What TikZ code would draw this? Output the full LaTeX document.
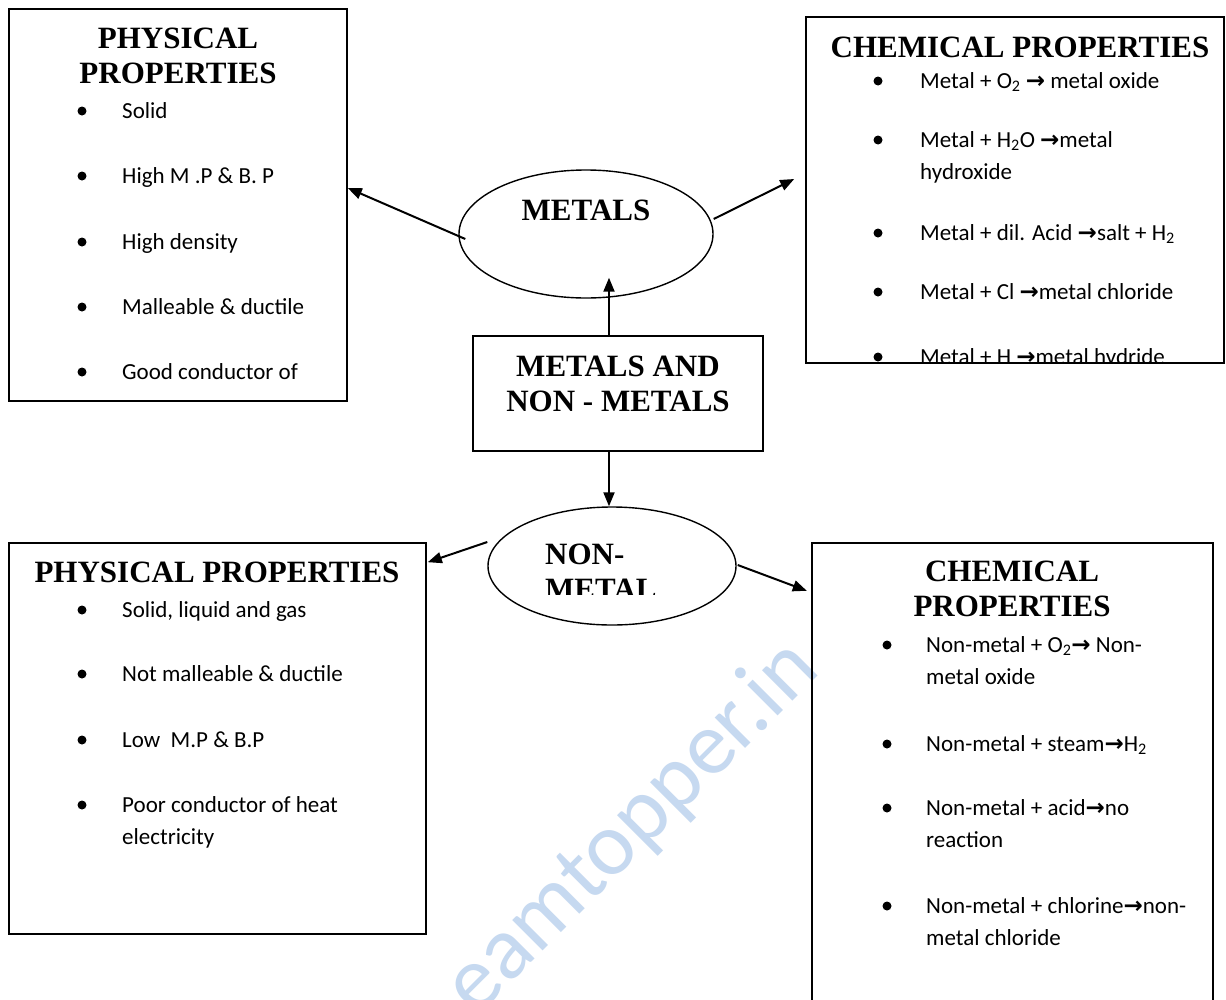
\documentclass[tikz,border=0pt]{standalone}
\usepackage{fontspec}
\setmainfont{Carlito}
\newfontfamily\tnr{Liberation Serif}
\newfontfamily\dvs{DejaVu Sans}
\usetikzlibrary{arrows.meta,calc,shapes.geometric}
\definecolor{wmblue}{RGB}{198,217,240}
\newcommand{\ra}{{\dvs\bfseries →}}
\newcommand{\sbs}[1]{\textsubscript{#1}}
\begin{document}
\begin{tikzpicture}[x=1pt,y=-1pt,
  box/.style={draw, line width=1.6pt, rectangle, inner sep=0pt},
  oval/.style={draw, line width=1.4pt, ellipse, inner sep=0pt},
  title/.style={font=\tnr\bfseries\fontsize{31}{35}\selectfont, align=center, inner sep=0pt, anchor=base},
  item/.style={font=\fontsize{23}{32.5}\selectfont, align=left, anchor=base west, inner sep=0pt},
  con/.style={line width=2pt, -{Triangle[length=14pt,width=11pt]}},
  dot/.style={circle, fill, inner sep=0pt, minimum size=9pt}]
\useasboundingbox[fill=white] (0,0) rectangle (1226,999);

% watermark
\node[rotate=45, anchor=base east, text=wmblue, inner sep=0pt,
      font=\fontsize{90}{90}\selectfont] (wm) at (822,672) {eamtopper.in};

% boxes
\node[box, minimum width=338pt, minimum height=392pt] (tlbox) at (178,205) {};
\node[box, minimum width=418pt, minimum height=346pt] (trbox) at (1015,190) {};
\node[box, minimum width=290pt, minimum height=115pt] (center) at (618,393.5) {};
\node[box, minimum width=417pt, minimum height=391pt] (blbox) at (217.5,738.5) {};
\node[inner sep=0pt, minimum width=401pt, minimum height=500pt] (brbox) at (1012.5,793) {};
\draw[line width=1.6pt] (brbox.south west) -- (brbox.north west) -- (brbox.north east) -- (brbox.south east);
\node[oval, minimum width=254pt, minimum height=128pt] (metals) at (586,234) {};
\node[oval, minimum width=248pt, minimum height=118pt] (nonmetal) at (612,566) {};

% titles (multi-line nodes: base = last line)
\node[title] (tltitle) at (178,83) {PHYSICAL\\PROPERTIES};
\node[title] (trtitle) at (1020,57) {CHEMICAL PROPERTIES};
\node[title] (ctitle) at (618,411) {METALS AND\\NON - METALS};
\node[title] (bltitle) at (217,582) {PHYSICAL PROPERTIES};
\node[title] (brtitle) at (1012,616) {CHEMICAL\\PROPERTIES};
\node[title] (mtitle) at (586,220) {METALS};
\begin{scope}
\clip (0,0) rectangle (1226,594);
\node[title, align=left, anchor=base west] (nmtitle) at (545,599) {NON-\\METAL};
\end{scope}

% connectors
\draw[con] ($(center.north)+(-9,0)$) -- ($(metals.south)+(23,-21)$);
\draw[con] ($(metals.west)+(7,5)$) -- ($(tlbox.east)+(0,-17)$);
\draw[con] ($(metals.east)+(0,-15)$) -- ($(trbox.west)+(-11,-11)$);
\draw[con] ($(center.south)+(-9,0)$) -- ($(nonmetal.north)+(-3,0)$);
\draw[con] ($(nonmetal.west)+(0,-24)$) -- ($(blbox.north east)+(1,20)$);
\draw[con] ($(nonmetal.east)+(1,-1)$) -- ($(brbox.north west)+(-5,48)$);

% top-left items
\foreach \yy in {111,176,242,307,372} \node[dot] at (82,\yy) {};
\node[item] (tl1) at (122,118) {Solid};
\node[item] (tl2) at (122,183) {High M .P \& B. P};
\node[item] (tl3) at (122,249) {High density};
\node[item] (tl4) at (122,314) {Malleable \& ductile};
\node[item] (tl5) at (122,379) {Good conductor of};

% top-right items
\begin{scope}
\clip (806,17) rectangle (1224,361);
\foreach \yy in {81,140,233,292,357} \node[dot] at (878,\yy) {};
\node[item] (tr1) at (920,88) {Metal + O\sbs{2} \ra{} metal oxide};
\node[item] (tr2) at (920,179.5) {Metal + H\sbs{2}O \ra metal\\hydroxide};
\node[item] (tr3) at (920,240) {Metal + dil. Acid \ra salt + H\sbs{2}};
\node[item] (tr4) at (920,299) {Metal + Cl \ra metal chloride};
\node[item] (tr5) at (920,364) {Metal + H \ra metal hydride};
\end{scope}

% bottom-left items
\foreach \yy in {610,674,740,805} \node[dot] at (82,\yy) {};
\node[item] (bl1) at (122,617) {Solid, liquid and gas};
\node[item] (bl2) at (122,681) {Not malleable \& ductile};
\node[item] (bl3) at (122,747) {Low\ \ M.P \& B.P};
\node[item] (bl4) at (122,844.5) {Poor conductor of heat\\electricity};

% bottom-right items
\foreach \yy in {645,744,808,906} \node[dot] at (887,\yy) {};
\node[item] (br1) at (926,684.5) {Non-metal + O\sbs{2}\ra{} Non-\\metal oxide};
\node[item] (br2) at (926,751) {Non-metal + steam\ra H\sbs{2}};
\node[item] (br3) at (926,847.5) {Non-metal + acid\ra no\\reaction};
\node[item] (br4) at (926,945.5) {Non-metal + chlorine\ra non-\\metal chloride};
\end{tikzpicture}
\end{document}
